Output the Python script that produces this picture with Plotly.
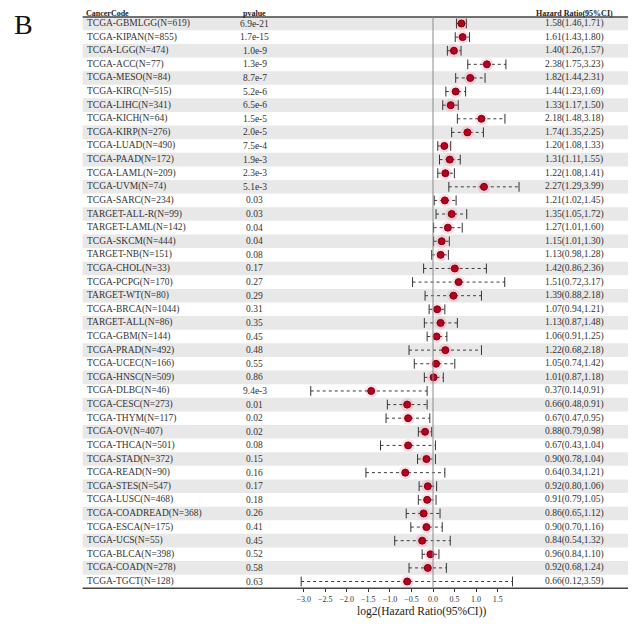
import math
import plotly.graph_objects as go

cancer_codes = [
    "TCGA-GBMLGG(N=619)", "TCGA-KIPAN(N=855)", "TCGA-LGG(N=474)", "TCGA-ACC(N=77)",
    "TCGA-MESO(N=84)", "TCGA-KIRC(N=515)", "TCGA-LIHC(N=341)", "TCGA-KICH(N=64)",
    "TCGA-KIRP(N=276)", "TCGA-LUAD(N=490)", "TCGA-PAAD(N=172)", "TCGA-LAML(N=209)",
    "TCGA-UVM(N=74)", "TCGA-SARC(N=234)", "TARGET-ALL-R(N=99)", "TARGET-LAML(N=142)",
    "TCGA-SKCM(N=444)", "TARGET-NB(N=151)", "TCGA-CHOL(N=33)", "TCGA-PCPG(N=170)",
    "TARGET-WT(N=80)", "TCGA-BRCA(N=1044)", "TARGET-ALL(N=86)", "TCGA-GBM(N=144)",
    "TCGA-PRAD(N=492)", "TCGA-UCEC(N=166)", "TCGA-HNSC(N=509)", "TCGA-DLBC(N=46)",
    "TCGA-CESC(N=273)", "TCGA-THYM(N=117)", "TCGA-OV(N=407)", "TCGA-THCA(N=501)",
    "TCGA-STAD(N=372)", "TCGA-READ(N=90)", "TCGA-STES(N=547)", "TCGA-LUSC(N=468)",
    "TCGA-COADREAD(N=368)", "TCGA-ESCA(N=175)", "TCGA-UCS(N=55)", "TCGA-BLCA(N=398)",
    "TCGA-COAD(N=278)", "TCGA-TGCT(N=128)",
]
pvalues = [
    "6.9e-21", "1.7e-15", "1.0e-9", "1.3e-9", "8.7e-7", "5.2e-6", "6.5e-6", "1.5e-5",
    "2.0e-5", "7.5e-4", "1.9e-3", "2.3e-3", "5.1e-3", "0.03", "0.03", "0.04",
    "0.04", "0.08", "0.17", "0.27", "0.29", "0.31", "0.35", "0.45",
    "0.48", "0.55", "0.86", "9.4e-3", "0.01", "0.02", "0.02", "0.08",
    "0.15", "0.16", "0.17", "0.18", "0.26", "0.41", "0.45", "0.52",
    "0.58", "0.63",
]
hazard_ratio = [
    1.58, 1.61, 1.40, 2.38, 1.82, 1.44, 1.33, 2.18, 1.74, 1.20, 1.31, 1.22, 2.27, 1.21,
    1.35, 1.27, 1.15, 1.13, 1.42, 1.51, 1.39, 1.07, 1.13, 1.06, 1.22, 1.05, 1.01, 0.37,
    0.66, 0.67, 0.88, 0.67, 0.90, 0.64, 0.92, 0.91, 0.86, 0.90, 0.84, 0.96, 0.92, 0.66,
]
ci_lower = [
    1.46, 1.43, 1.26, 1.75, 1.44, 1.23, 1.17, 1.48, 1.35, 1.08, 1.11, 1.08, 1.29, 1.02,
    1.05, 1.01, 1.01, 0.98, 0.86, 0.72, 0.88, 0.94, 0.87, 0.91, 0.68, 0.74, 0.87, 0.14,
    0.48, 0.47, 0.79, 0.43, 0.78, 0.34, 0.80, 0.79, 0.65, 0.70, 0.54, 0.84, 0.68, 0.12,
]
ci_upper = [
    1.71, 1.80, 1.57, 3.23, 2.31, 1.69, 1.50, 3.18, 2.25, 1.33, 1.55, 1.41, 3.99, 1.45,
    1.72, 1.60, 1.30, 1.28, 2.36, 3.17, 2.18, 1.21, 1.48, 1.25, 2.18, 1.42, 1.18, 0.91,
    0.91, 0.95, 0.98, 1.04, 1.04, 1.21, 1.06, 1.05, 1.12, 1.16, 1.32, 1.10, 1.24, 3.59,
]
x_tick_values = [-3.0, -2.5, -2.0, -1.5, -1.0, -0.5, 0.0, 0.5, 1.0, 1.5]

FONT = "Liberation Serif, Times New Roman, serif"
W, H = 636, 641
ROW0_PX, ROW_PX = 15.5, 13.61  # pixel of first row centre and row pitch
LEFT_PX = 74
TABLE_LEFT_PX = 72
PVAL_PX = 245
HR_PX = 566

rows = list(range(len(cancer_codes)))
log_hr = [math.log2(v) for v in hazard_ratio]
log_lo = [math.log2(v) for v in ci_lower]
log_hi = [math.log2(v) for v in ci_upper]
hr_text = [f"{h:.2f}({l:.2f},{u:.2f})" for h, l, u in zip(hazard_ratio, ci_lower, ci_upper)]


def px_to_row(p):
    return (p - ROW0_PX) / ROW_PX


fig = go.Figure()

# CI lines (dotted)
line_x, line_y = [], []
for i, lo, hi in zip(rows, log_lo, log_hi):
    line_x += [lo, hi, None]
    line_y += [i, i, None]
fig.add_trace(go.Scatter(x=line_x, y=line_y, mode="lines",
                         line=dict(color="#3c3c3c", width=1, dash="dot"),
                         hoverinfo="skip", showlegend=False))
# caps
fig.add_trace(go.Scatter(x=log_lo + log_hi, y=rows + rows, mode="markers",
                         marker=dict(symbol="line-ns-open", size=7, color="#333333",
                                     line=dict(color="#333333", width=1)),
                         hoverinfo="skip", showlegend=False))
# halo
fig.add_trace(go.Scatter(x=log_hr, y=rows, mode="markers",
                         marker=dict(symbol="circle", size=13, color="rgba(240,70,100,0.15)"),
                         hoverinfo="skip", showlegend=False))
# points
fig.add_trace(go.Scatter(x=log_hr, y=rows, mode="markers",
                         marker=dict(symbol="circle", size=7, color="#b5001e",
                                     line=dict(color="#7d0012", width=1)),
                         text=cancer_codes, showlegend=False))

shapes = []
# row shading
for i in rows:
    if i % 2 == 0:
        shapes.append(dict(type="rect", xref="paper", yref="y", x0=TABLE_LEFT_PX / W, x1=1,
                           y0=i - 0.5, y1=i + 0.5, fillcolor="#e8e8e8",
                           line=dict(width=0), layer="below"))
top_line = px_to_row(9.0)
bottom_line = len(rows) - 0.5
shapes.append(dict(type="line", xref="paper", yref="y", x0=TABLE_LEFT_PX / W, x1=1,
                   y0=top_line, y1=top_line, line=dict(color="#444444", width=1.5)))
shapes.append(dict(type="line", xref="paper", yref="y", x0=TABLE_LEFT_PX / W, x1=1,
                   y0=bottom_line, y1=bottom_line, line=dict(color="#444444", width=1.5)))
# reference line at log2(HR)=0
shapes.append(dict(type="line", xref="x", yref="y", x0=0, x1=0,
                   y0=top_line, y1=bottom_line, line=dict(color="#8a8a8a", width=1)))

annotations = []
hdr_y = px_to_row(5.0)
hdr_font = dict(family=FONT, size=8, color="#222")
for x_px, txt, anchor in [(LEFT_PX, "<b>CancerCode</b>", "left"),
                          (PVAL_PX, "<b>pvalue</b>", "center"),
                          (HR_PX, "<b>Hazard Ratio(95%CI)</b>", "center")]:
    annotations.append(dict(x=x_px / W, y=hdr_y, xref="paper", yref="y", text=txt,
                            showarrow=False, xanchor=anchor, yanchor="middle",
                            borderpad=0, font=hdr_font))
cell_font = dict(family=FONT, size=9.5, color="#333")
for i, code, p, t in zip(rows, cancer_codes, pvalues, hr_text):
    annotations.append(dict(x=LEFT_PX / W, y=i, xref="paper", yref="y", text=code,
                            showarrow=False, xanchor="left", yanchor="middle", font=cell_font))
    annotations.append(dict(x=PVAL_PX / W, y=i, xref="paper", yref="y", text=p,
                            showarrow=False, xanchor="center", yanchor="middle", font=cell_font))
    annotations.append(dict(x=HR_PX / W, y=i, xref="paper", yref="y", text=t,
                            showarrow=False, xanchor="center", yanchor="middle", font=cell_font))
annotations.append(dict(x=13 / W, y=1 - 16 / H, xref="paper", yref="paper", text="B",
                        showarrow=False, xanchor="center", yanchor="middle",
                        font=dict(family=FONT, size=28, color="#111")))
annotations.append(dict(x=413 / W, y=1 - 603 / H, xref="paper", yref="paper",
                        text="log2(Hazard Ratio(95%CI))",
                        showarrow=False, xanchor="center", yanchor="middle",
                        font=dict(family=FONT, size=11.5, color="#222")))

ZERO_PX, UNIT_PX = 424.0, 43.3
x0_px, x1_px = 290.0, 520.0
fig.update_layout(
    width=W, height=H,
    margin=dict(l=0, r=0, t=0, b=0),
    paper_bgcolor="white", plot_bgcolor="rgba(0,0,0,0)",
    shapes=shapes, annotations=annotations,
    xaxis=dict(domain=[x0_px / W, x1_px / W],
               range=[(x0_px - ZERO_PX) / UNIT_PX, (x1_px - ZERO_PX) / UNIT_PX],
               anchor="free", position=1 - (ROW0_PX + bottom_line * ROW_PX) / H,
               tickvals=x_tick_values, tickformat=".1f",
               ticks="outside", ticklen=3, tickcolor="#333", showline=False,
               showgrid=False, zeroline=False,
               tickfont=dict(family=FONT, size=8, color="#333")),
    yaxis=dict(domain=[0, 1], range=[px_to_row(H), px_to_row(0)], visible=False,
               showgrid=False, zeroline=False),
)

fig.write_html("out.html")
